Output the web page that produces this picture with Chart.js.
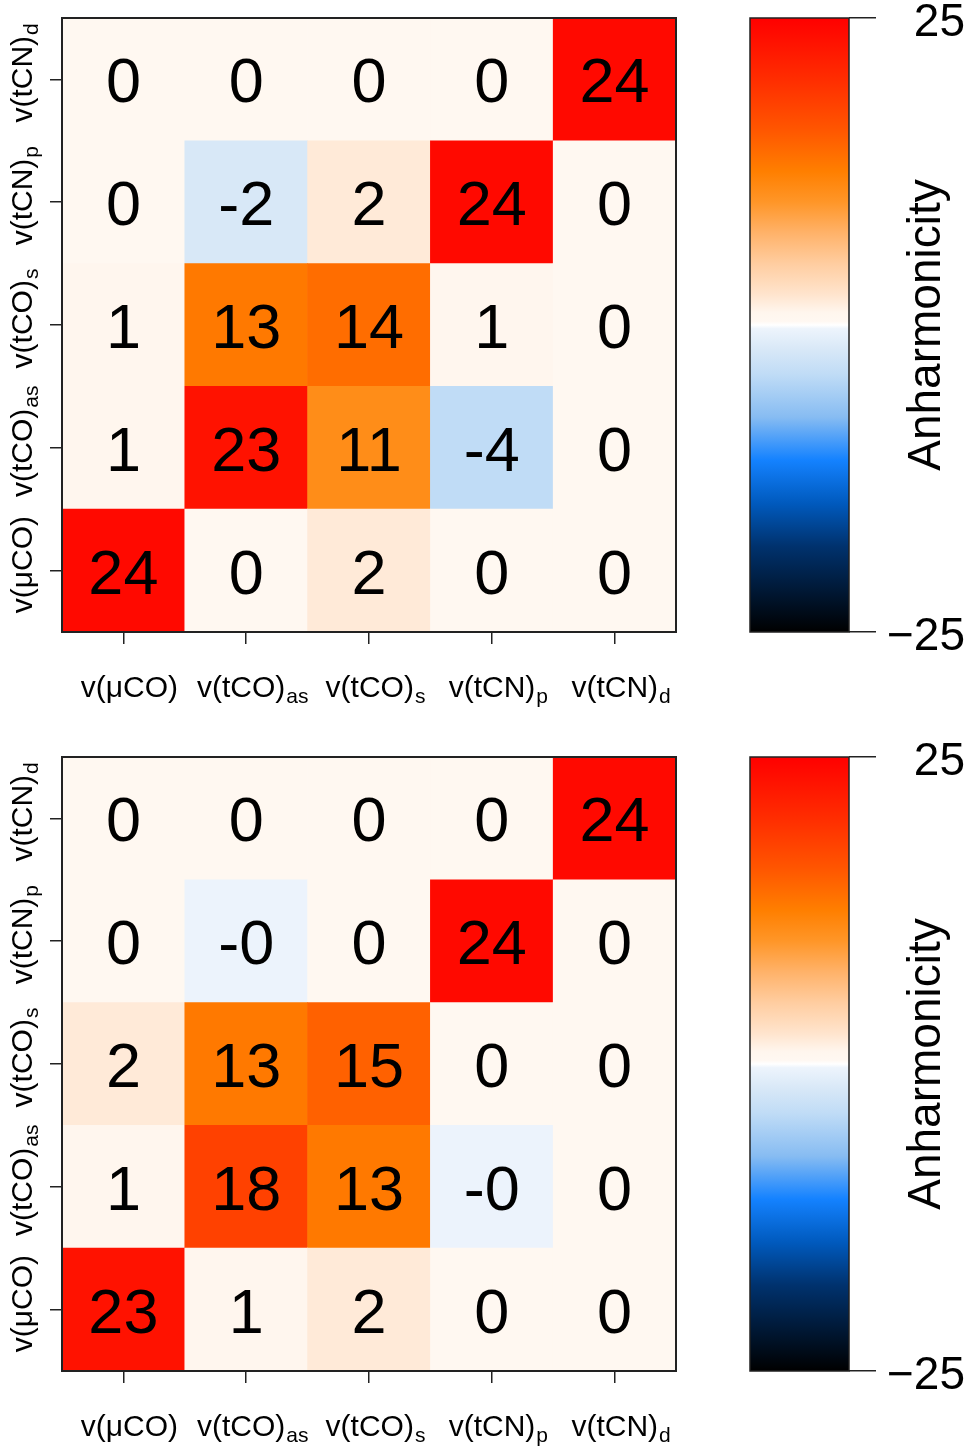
<!DOCTYPE html>
<html lang="en">
<head>
  <meta charset="UTF-8" />
  <title>Anharmonicity maps</title>
  <script src="https://cdn.jsdelivr.net/npm/chart.js"></script>
  <style>
    body {
      margin: 0;
      background: #fff;
    }
    .wrap {
      position: relative;
      width: 969px;
      height: 1449px;
      overflow: hidden;
    }
    canvas {
      position: absolute;
    }
  </style>
</head>
<body>
  <div class="wrap">
    <canvas id="heat1" width="700" height="740" style="left:0;top:0"></canvas>
    <canvas id="cbar1" width="269" height="740" style="left:700px;top:0"></canvas>
    <canvas id="heat2" width="700" height="710" style="left:0;top:739px"></canvas>
    <canvas id="cbar2" width="269" height="710" style="left:700px;top:739px"></canvas>
  </div>

  <script>
    // mode labels (main text + subscript), same order on both axes
    const modeMain = ['v(μCO)', 'v(tCO)', 'v(tCO)', 'v(tCN)', 'v(tCN)'];
    const modeSub = ['', 'as', 's', 'p', 'd'];

    // rows listed from the bottom row (v(μCO)) up to the top row (v(tCN)d)
    const topValues = [
      [24, 0.4, 2, 0.4, 0.4],
      [1, 23, 11, -4, 0.4],
      [1, 13, 14, 1, 0.4],
      [0.4, -2, 2, 24, 0.4],
      [0.4, 0.4, 0.4, 0.4, 24]
    ];
    const bottomValues = [
      [23, 1, 2, 0.4, 0.4],
      [1, 18, 13, -0.4, 0.4],
      [2, 13, 15, 0.4, 0.4],
      [0.4, -0.4, 0.4, 24, 0.4],
      [0.4, 0.4, 0.4, 0.4, 24]
    ];

    const cbarMin = -25;
    const cbarMax = 25;
    const cbarTicks = [-25, 25];
    const cbarTickLabels = ['\u221225', '25'];
    const cbarTitle = 'Anharmonicity';

    // colour map: value -> rgb
    const cmap = [
      [-25, [0, 0, 0]],
      [-21.5, [0, 25, 55]],
      [-18, [0, 50, 110]],
      [-14.5, [0, 90, 190]],
      [-11, [20, 130, 255]],
      [-7.5, [135, 188, 242]],
      [-4, [192, 220, 246]],
      [-2, [216, 232, 247]],
      [-0.3, [237, 244, 252]],
      [0, [255, 255, 255]],
      [0.3, [255, 248, 242]],
      [1, [255, 246, 238]],
      [2.5, [255, 228, 205]],
      [5, [255, 205, 160]],
      [7.5, [255, 178, 105]],
      [10, [255, 150, 40]],
      [12.5, [255, 127, 0]],
      [16, [255, 85, 0]],
      [20, [255, 45, 0]],
      [25, [255, 0, 0]]
    ];

    const FONT = '"Liberation Sans", Arial, sans-serif';

    function colorFor(v) {
      if (v <= cmap[0][0]) return rgb(cmap[0][1]);
      for (let i = 1; i < cmap.length; i++) {
        if (v <= cmap[i][0]) {
          const [v0, c0] = cmap[i - 1];
          const [v1, c1] = cmap[i];
          const t = (v - v0) / (v1 - v0);
          return rgb(c0.map((c, k) => c + (c1[k] - c) * t));
        }
      }
      return rgb(cmap[cmap.length - 1][1]);
    }

    function rgb(c) {
      return `rgb(${c.map(Math.round).join(',')})`;
    }

    // label with subscript, centred on 0 along the current x axis
    function drawModeLabel(ctx, i, baseline) {
      ctx.font = '30px ' + FONT;
      const wMain = ctx.measureText(modeMain[i]).width;
      ctx.font = '21px ' + FONT;
      const wSub = ctx.measureText(modeSub[i]).width;
      const start = 6 - (wMain + wSub) / 2;
      ctx.textAlign = 'left';
      ctx.textBaseline = 'alphabetic';
      ctx.font = '30px ' + FONT;
      ctx.fillText(modeMain[i], start, baseline);
      ctx.font = '21px ' + FONT;
      ctx.fillText(modeSub[i], start + wMain + 1, baseline + 6);
    }

    const heatDecor = {
      id: 'heatDecor',
      afterDatasetsDraw(chart, args, opts) {
        const { ctx, chartArea: a, scales: { x, y } } = chart;
        ctx.save();
        ctx.fillStyle = '#000';

        // cell values
        ctx.font = '63px ' + FONT;
        ctx.textAlign = 'center';
        ctx.textBaseline = 'alphabetic';
        opts.values.forEach((row, r) => {
          row.forEach((v, c) => {
            ctx.fillText(v.toFixed(0), x.getPixelForValue(c), y.getPixelForValue(r) + 23);
          });
        });

        // frame
        ctx.strokeStyle = '#222';
        ctx.lineWidth = 2;
        ctx.strokeRect(a.left, a.top, a.width, a.height);

        // x labels
        modeMain.forEach((m, i) => {
          ctx.save();
          ctx.translate(x.getPixelForValue(i), 0);
          drawModeLabel(ctx, i, a.bottom + 65);
          ctx.restore();
        });

        // y labels (rotated)
        modeMain.forEach((m, i) => {
          ctx.save();
          ctx.translate(0, y.getPixelForValue(i));
          ctx.rotate(-Math.PI / 2);
          drawModeLabel(ctx, i, 32);
          ctx.restore();
        });
        ctx.restore();
      }
    };

    const cbarDecor = {
      id: 'cbarDecor',
      afterDatasetsDraw(chart) {
        const { ctx, chartArea: a, scales: { y } } = chart;
        ctx.save();
        ctx.strokeStyle = '#222';
        ctx.lineWidth = 1.5;
        ctx.strokeRect(a.left, a.top, a.width, a.height);

        ctx.fillStyle = '#000';
        ctx.font = '46px ' + FONT;
        ctx.textAlign = 'right';
        ctx.textBaseline = 'alphabetic';
        cbarTicks.forEach((t, i) => {
          ctx.fillText(cbarTickLabels[i], 265, y.getPixelForValue(t) + 18);
        });

        ctx.translate(240, (a.top + a.bottom) / 2);
        ctx.rotate(-Math.PI / 2);
        ctx.textAlign = 'center';
        ctx.fillText(cbarTitle, 0, 0);
        ctx.restore();
      }
    };

    function heatmap(id, values) {
      const canvas = document.getElementById(id);
      const datasets = values.map((row, r) => ({
        data: row.map(() => [r - 0.5, r + 0.5]),
        backgroundColor: row.map(colorFor),
        borderWidth: 0,
        grouped: false,
        barPercentage: 1,
        categoryPercentage: 1
      }));
      return new Chart(canvas.getContext('2d'), {
        type: 'bar',
        data: { labels: modeMain.map((m, i) => m + modeSub[i]), datasets },
        options: {
          responsive: false,
          animation: false,
          layout: { padding: { top: 18, right: 24, left: 0, bottom: 0 } },
          plugins: {
            legend: { display: false },
            tooltip: { enabled: false },
            heatDecor: { values }
          },
          scales: {
            x: {
              offset: true,
              grid: { offset: false, drawOnChartArea: false, tickLength: 12, color: '#222', lineWidth: 1.5 },
              border: { display: false },
              ticks: { display: false },
              afterFit(s) { s.height = canvas.height - 632; }
            },
            y: {
              type: 'linear',
              min: -0.5,
              max: 4.5,
              afterBuildTicks(s) { s.ticks = [0, 1, 2, 3, 4].map(v => ({ value: v })); },
              grid: { drawOnChartArea: false, tickLength: 12, color: '#222', lineWidth: 1.5 },
              border: { display: false },
              ticks: { display: false },
              afterFit(s) { s.width = 62; }
            }
          }
        },
        plugins: [heatDecor]
      });
    }

    function colorbar(id) {
      const canvas = document.getElementById(id);
      return new Chart(canvas.getContext('2d'), {
        type: 'bar',
        data: {
          labels: [''],
          datasets: [{
            data: [[cbarMin, cbarMax]],
            backgroundColor(c) {
              const a = c.chart.chartArea;
              if (!a) return null;
              const g = c.chart.ctx.createLinearGradient(0, a.bottom, 0, a.top);
              cmap.forEach(([v, col]) => g.addColorStop((v - cbarMin) / (cbarMax - cbarMin), rgb(col)));
              return g;
            },
            borderWidth: 0,
            barPercentage: 1,
            categoryPercentage: 1
          }]
        },
        options: {
          responsive: false,
          animation: false,
          layout: { padding: { top: 18, left: 50, bottom: canvas.height - 632 } },
          plugins: { legend: { display: false }, tooltip: { enabled: false } },
          scales: {
            x: { display: false },
            y: {
              position: 'right',
              min: cbarMin,
              max: cbarMax,
              afterBuildTicks(s) { s.ticks = cbarTicks.map(v => ({ value: v })); },
              grid: { drawOnChartArea: false, tickLength: 27, color: '#222', lineWidth: 1.5 },
              border: { display: false },
              ticks: { display: false },
              afterFit(s) { s.width = 120; }
            }
          }
        },
        plugins: [cbarDecor]
      });
    }

    heatmap('heat1', topValues);
    colorbar('cbar1');
    heatmap('heat2', bottomValues);
    colorbar('cbar2');
  </script>
</body>
</html>
